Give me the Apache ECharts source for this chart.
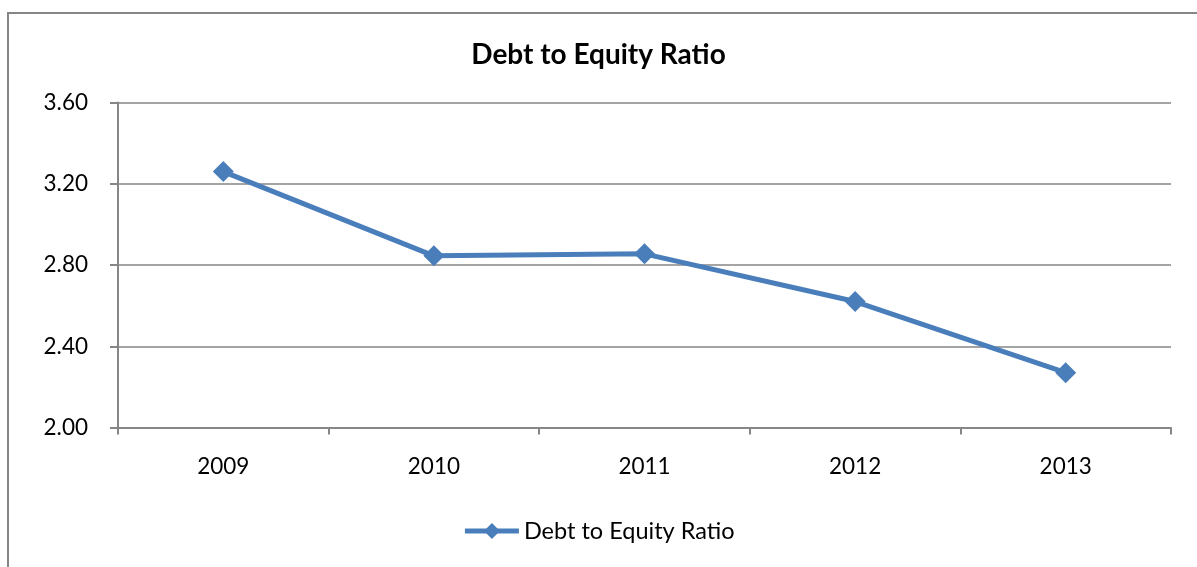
<!DOCTYPE html>
<html>
<head>
<meta charset="utf-8">
<script src="https://cdn.jsdelivr.net/npm/echarts@6/dist/echarts.min.js"></script>
<style>
html,body{margin:0;padding:0;background:#fff;}
#c{width:1197px;height:567px;}
</style>
</head>
<body>
<div id="c"></div>
<script>
const categories = ['2009', '2010', '2011', '2012', '2013'];
const ratioValues = [3.26, 2.845, 2.855, 2.62, 2.27];
const seriesName = 'Debt to Equity Ratio';
const yTicks = { min: 2.0, max: 3.6, interval: 0.4 };

const chart = echarts.init(document.getElementById('c'));
const font = 'Lato, "Open Sans", sans-serif';
chart.setOption({
  animation: false,
  backgroundColor: '#fff',
  graphic: [{
    type: 'rect',
    shape: { x: 8, y: 13, width: 1250, height: 650 },
    style: { fill: 'none', stroke: '#868686', lineWidth: 2 },
    silent: true,
    z: -1
  }],
  title: {
    text: 'Debt to Equity Ratio',
    left: 'center',
    top: 36,
    textStyle: { fontFamily: font, fontSize: 28, fontWeight: 'bold', color: '#000' }
  },
  legend: {
    data: [seriesName],
    bottom: 19,
    left: 'center',
    itemWidth: 54,
    itemHeight: 20,
    itemGap: 4,
    lineStyle: { width: 5 },
    textStyle: { fontFamily: font, fontSize: 23.5, color: '#000' }
  },
  grid: { left: 118, right: 26, top: 102.5, bottom: 139.5, containLabel: false },
  xAxis: {
    type: 'category',
    data: categories,
    boundaryGap: true,
    axisLine: { show: true, lineStyle: { color: '#868686', width: 2 } },
    axisTick: { show: true, length: 7, alignWithLabel: false, lineStyle: { color: '#868686', width: 2 } },
    axisLabel: { margin: 28, fontFamily: font, fontSize: 22.5, color: '#000' },
    splitLine: { show: false }
  },
  yAxis: {
    type: 'value',
    min: yTicks.min,
    max: yTicks.max,
    interval: yTicks.interval,
    axisLine: { show: true, lineStyle: { color: '#868686', width: 2 } },
    axisTick: { show: true, length: 8, lineStyle: { color: '#868686', width: 2 } },
    axisLabel: { margin: 30, fontFamily: font, fontSize: 22.5, color: '#000', formatter: v => v.toFixed(2) },
    splitLine: { show: true, lineStyle: { color: '#868686', width: 1.5 } }
  },
  series: [{
    name: seriesName,
    type: 'line',
    data: ratioValues,
    symbol: 'diamond',
    symbolSize: 21,
    itemStyle: { color: '#4a7ebb' },
    lineStyle: { color: '#4a7ebb', width: 5 }
  }]
});
</script>
</body>
</html>
